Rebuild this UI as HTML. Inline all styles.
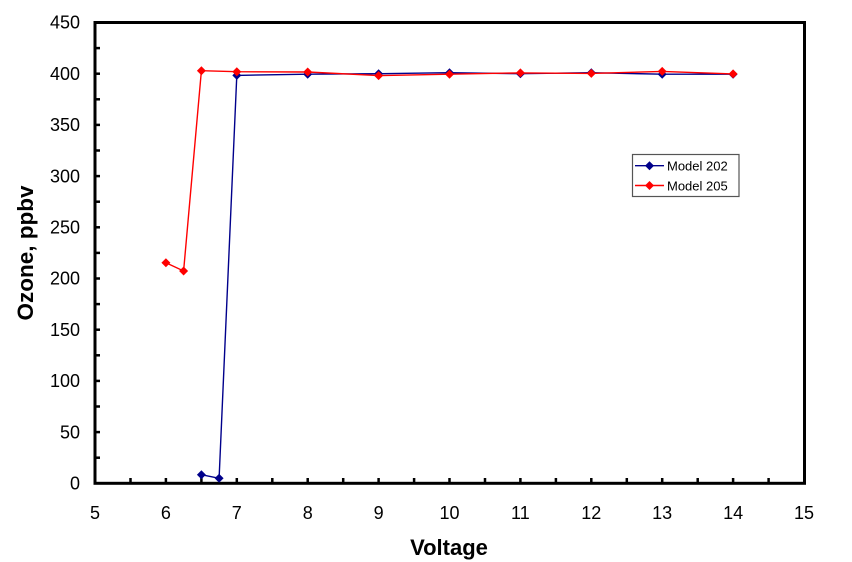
<!DOCTYPE html>
<html>
<head>
<meta charset="utf-8">
<style>
html,body{margin:0;padding:0;background:#fff;}
svg{display:block;}
text{font-family:"Liberation Sans",Arial,sans-serif;fill:#000;}
</style>
</head>
<body>
<svg width="852" height="562" viewBox="0 0 852 562" xmlns="http://www.w3.org/2000/svg">
<defs>
<path id="dmB" d="M0,-4.5 L4.5,0 L0,4.5 L-4.5,0 Z" fill="#00008B"/>
<path id="dmR" d="M0,-4.5 L4.5,0 L0,4.5 L-4.5,0 Z" fill="#FF0000"/>
</defs>
<!-- plot frame -->
<rect x="95" y="22.5" width="709.5" height="460.8" fill="none" stroke="#000" stroke-width="3"/>
<!-- y ticks every 25 -->
<g stroke="#000" stroke-width="2.5">
<line x1="95" y1="457.7" x2="100" y2="457.7"/>
<line x1="95" y1="432.1" x2="100" y2="432.1"/>
<line x1="95" y1="406.5" x2="100" y2="406.5"/>
<line x1="95" y1="380.9" x2="100" y2="380.9"/>
<line x1="95" y1="355.3" x2="100" y2="355.3"/>
<line x1="95" y1="329.7" x2="100" y2="329.7"/>
<line x1="95" y1="304.1" x2="100" y2="304.1"/>
<line x1="95" y1="278.5" x2="100" y2="278.5"/>
<line x1="95" y1="252.9" x2="100" y2="252.9"/>
<line x1="95" y1="227.3" x2="100" y2="227.3"/>
<line x1="95" y1="201.7" x2="100" y2="201.7"/>
<line x1="95" y1="176.1" x2="100" y2="176.1"/>
<line x1="95" y1="150.5" x2="100" y2="150.5"/>
<line x1="95" y1="124.9" x2="100" y2="124.9"/>
<line x1="95" y1="99.3" x2="100" y2="99.3"/>
<line x1="95" y1="73.7" x2="100" y2="73.7"/>
<line x1="95" y1="48.1" x2="100" y2="48.1"/>
</g>
<!-- x ticks every 0.5 -->
<g stroke="#000" stroke-width="2.5">
<line x1="130.5" y1="483.3" x2="130.5" y2="478"/>
<line x1="165.9" y1="483.3" x2="165.9" y2="478"/>
<line x1="201.4" y1="483.3" x2="201.4" y2="478"/>
<line x1="236.8" y1="483.3" x2="236.8" y2="478"/>
<line x1="272.3" y1="483.3" x2="272.3" y2="478"/>
<line x1="307.7" y1="483.3" x2="307.7" y2="478"/>
<line x1="343.2" y1="483.3" x2="343.2" y2="478"/>
<line x1="378.6" y1="483.3" x2="378.6" y2="478"/>
<line x1="414.1" y1="483.3" x2="414.1" y2="478"/>
<line x1="449.5" y1="483.3" x2="449.5" y2="478"/>
<line x1="485.0" y1="483.3" x2="485.0" y2="478"/>
<line x1="520.4" y1="483.3" x2="520.4" y2="478"/>
<line x1="555.9" y1="483.3" x2="555.9" y2="478"/>
<line x1="591.3" y1="483.3" x2="591.3" y2="478"/>
<line x1="626.8" y1="483.3" x2="626.8" y2="478"/>
<line x1="662.2" y1="483.3" x2="662.2" y2="478"/>
<line x1="697.7" y1="483.3" x2="697.7" y2="478"/>
<line x1="733.1" y1="483.3" x2="733.1" y2="478"/>
<line x1="768.6" y1="483.3" x2="768.6" y2="478"/>
</g>
<!-- y labels -->
<g font-size="18" text-anchor="end">
<text x="80" y="489.5">0</text>
<text x="80" y="438.3">50</text>
<text x="80" y="387.1">100</text>
<text x="80" y="335.9">150</text>
<text x="80" y="284.7">200</text>
<text x="80" y="233.5">250</text>
<text x="80" y="182.3">300</text>
<text x="80" y="131.1">350</text>
<text x="80" y="79.9">400</text>
<text x="80" y="28.7">450</text>
</g>
<!-- x labels -->
<g font-size="18" text-anchor="middle">
<text x="95" y="519">5</text>
<text x="165.9" y="519">6</text>
<text x="236.8" y="519">7</text>
<text x="307.7" y="519">8</text>
<text x="378.6" y="519">9</text>
<text x="449.5" y="519">10</text>
<text x="520.4" y="519">11</text>
<text x="591.3" y="519">12</text>
<text x="662.2" y="519">13</text>
<text x="733.1" y="519">14</text>
<text x="804" y="519">15</text>
</g>
<!-- axis titles -->
<text x="449" y="555" font-size="22" font-weight="bold" text-anchor="middle">Voltage</text>
<text transform="translate(33,253) rotate(-90)" font-size="22.5" font-weight="bold" text-anchor="middle">Ozone, ppbv</text>
<!-- Model 202 (blue) -->
<polyline fill="none" stroke="#00008B" stroke-width="1.4" points="201.4,474.7 219.1,478.3 236.8,75.4 307.7,74.2 378.6,73.7 449.5,72.7 520.4,73.7 591.3,72.7 662.2,74.2 733.1,74.2"/>
<g>
<use href="#dmB" x="201.4" y="474.7"/>
<use href="#dmB" x="219.1" y="478.3"/>
<use href="#dmB" x="236.8" y="75.4"/>
<use href="#dmB" x="307.7" y="74.2"/>
<use href="#dmB" x="378.6" y="73.7"/>
<use href="#dmB" x="449.5" y="72.7"/>
<use href="#dmB" x="520.4" y="73.7"/>
<use href="#dmB" x="591.3" y="72.7"/>
<use href="#dmB" x="662.2" y="74.2"/>
<use href="#dmB" x="733.1" y="74.2"/>
</g>
<!-- Model 205 (red) -->
<polyline fill="none" stroke="#FF0000" stroke-width="1.4" points="165.9,262.7 183.6,271.0 201.4,70.7 236.8,71.7 307.7,72.0 378.6,75.6 449.5,74.2 520.4,72.9 591.3,73.4 662.2,71.4 733.1,73.9"/>
<g>
<use href="#dmR" x="165.9" y="262.7"/>
<use href="#dmR" x="183.6" y="271.0"/>
<use href="#dmR" x="201.4" y="70.7"/>
<use href="#dmR" x="236.8" y="71.7"/>
<use href="#dmR" x="307.7" y="72.0"/>
<use href="#dmR" x="378.6" y="75.6"/>
<use href="#dmR" x="449.5" y="74.2"/>
<use href="#dmR" x="520.4" y="72.9"/>
<use href="#dmR" x="591.3" y="73.4"/>
<use href="#dmR" x="662.2" y="71.4"/>
<use href="#dmR" x="733.1" y="73.9"/>
</g>
<!-- legend -->
<rect x="632.5" y="154.5" width="106.5" height="42" fill="#fff" stroke="#555" stroke-width="1.2"/>
<line x1="635" y1="165.7" x2="664" y2="165.7" stroke="#00008B" stroke-width="1.4"/>
<use href="#dmB" x="649.5" y="165.7"/>
<text x="667" y="170.5" font-size="13">Model 202</text>
<line x1="635" y1="185.5" x2="664" y2="185.5" stroke="#FF0000" stroke-width="1.4"/>
<use href="#dmR" x="649.5" y="185.5"/>
<text x="667" y="190.3" font-size="13">Model 205</text>
</svg>
</body>
</html>
